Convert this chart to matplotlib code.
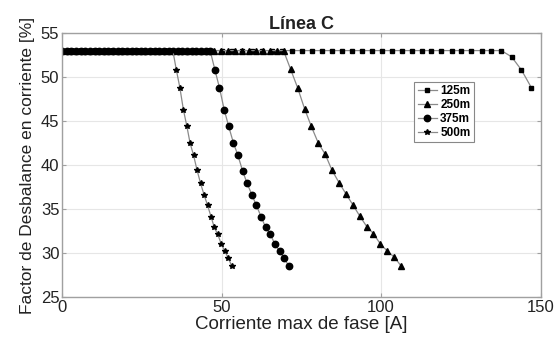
import matplotlib
matplotlib.use('Agg')
import matplotlib.pyplot as plt

plt.rcParams['font.family'] = ['Liberation Sans', 'DejaVu Sans']

# 125m
x_125 = [0, 3.1, 6.3, 9.4, 12.5, 15.7, 18.8, 21.9, 25.0, 28.2, 31.3, 34.4, 37.6, 40.7,
         43.8, 47.0, 50.1, 53.2, 56.3, 59.5, 62.6, 65.7, 68.9, 72.0, 75.1, 78.3, 81.4,
         84.5, 87.6, 90.8, 93.9, 97.0, 100.2, 103.3, 106.4, 109.6, 112.7, 115.8, 118.9,
         122.1, 125.2, 128.3, 131.5, 134.6, 137.7, 140.9, 144.0, 147.1]
y_125 = [53.0] * 45 + [52.3, 50.8, 48.8]

# 250m
x_250 = [0, 2.2, 4.3, 6.5, 8.7, 10.9, 13.0, 15.2, 17.4, 19.5, 21.7, 23.9, 26.0, 28.2,
         30.4, 32.6, 34.7, 36.9, 39.1, 41.2, 43.4, 45.6, 47.7, 49.9, 52.1, 54.3, 56.4,
         58.6, 60.8, 62.9, 65.1, 67.3, 69.4, 71.6, 73.8, 76.0, 78.1, 80.3, 82.5, 84.6,
         86.8, 89.0, 91.1, 93.3, 95.5, 97.6, 99.8, 102.0, 104.2, 106.3]
y_250 = [53.0] * 33 + [50.9, 48.8, 46.4, 44.4, 42.5, 41.2, 39.4, 38.0, 36.7, 35.5,
                       34.2, 33.0, 32.2, 31.0, 30.2, 29.5, 28.5]

# 375m
x_375 = [0, 1.5, 2.9, 4.4, 5.8, 7.3, 8.7, 10.2, 11.6, 13.1, 14.5, 16.0, 17.4, 18.9,
         20.3, 21.8, 23.2, 24.7, 26.1, 27.6, 29.0, 30.5, 31.9, 33.4, 34.8, 36.3, 37.7,
         39.2, 40.6, 42.1, 43.5, 45.0, 46.4, 47.9, 49.3, 50.8, 52.2, 53.7, 55.1, 56.6,
         58.0, 59.5, 60.9, 62.4, 63.8, 65.3, 66.7, 68.2, 69.6, 71.1]
y_375 = [53.0] * 33 + [50.8, 48.8, 46.3, 44.4, 42.5, 41.1, 39.3, 37.9, 36.6, 35.4,
                       34.1, 32.9, 32.1, 31.0, 30.2, 29.4, 28.5]

# 500m
x_500 = [0, 1.1, 2.2, 3.3, 4.3, 5.4, 6.5, 7.6, 8.7, 9.8, 10.9, 11.9, 13.0, 14.1, 15.2,
         16.3, 17.4, 18.4, 19.5, 20.6, 21.7, 22.8, 23.9, 25.0, 26.0, 27.1, 28.2, 29.3,
         30.4, 31.5, 32.6, 33.6, 34.7, 35.8, 36.9, 38.0, 39.1, 40.1, 41.2, 42.3, 43.4,
         44.5, 45.6, 46.7, 47.7, 48.8, 49.9, 51.0, 52.1, 53.2]
y_500 = [53.0] * 33 + [50.8, 48.8, 46.3, 44.4, 42.5, 41.1, 39.4, 37.9, 36.6, 35.4,
                       34.1, 32.9, 32.1, 31.0, 30.2, 29.4, 28.5]

fig = plt.figure(figsize=(5.55, 3.51), dpi=100)
ax = fig.add_axes([0.112, 0.154, 0.862, 0.752])

line_c = '#8a8a8a'
ax.plot(x_125, y_125, color=line_c, lw=0.9, marker='s', ms=3.3, mfc='black', mec='black', label='125m')
ax.plot(x_250, y_250, color=line_c, lw=0.9, marker='^', ms=4.2, mfc='black', mec='black', label='250m')
ax.plot(x_375, y_375, color=line_c, lw=0.9, marker='o', ms=4.6, mfc='black', mec='black', label='375m')
ax.plot(x_500, y_500, color=line_c, lw=0.9, marker='*', ms=4.0, mfc='black', mec='black', label='500m')

ax.set_xlim(0, 150)
ax.set_ylim(25, 55)
ax.set_xticks([0, 50, 100, 150])
ax.set_yticks([25, 30, 35, 40, 45, 50, 55])
ax.grid(True, color='#e6e6e6', lw=0.8)
ax.set_axisbelow(True)
for s in ax.spines.values():
    s.set_color('#a0a0a0')
    s.set_linewidth(1.0)
ax.tick_params(direction='in', length=3, color='#a0a0a0', labelsize=12, pad=2,
               right=True, top=True, labelcolor='#222222')

ax.set_xlabel('Corriente max de fase [A]', fontsize=13.5, color='#222222', labelpad=1)
ax.set_ylabel('Factor de Desbalance en corriente [%]', fontsize=12.5, color='#222222', labelpad=4)
ax.set_title('Línea C', fontsize=13, fontweight='bold', color='#222222', pad=3)

leg = ax.legend(loc='upper left', bbox_to_anchor=(0.736, 0.815),
                prop={'weight': 'bold', 'size': 8.5}, handlelength=1.6, handletextpad=0.3,
                labelspacing=0.15, borderpad=0.3, fancybox=False, framealpha=1,
                edgecolor='#888888', borderaxespad=0)
leg.get_frame().set_linewidth(0.8)

fig.savefig('out.png', dpi=100)
